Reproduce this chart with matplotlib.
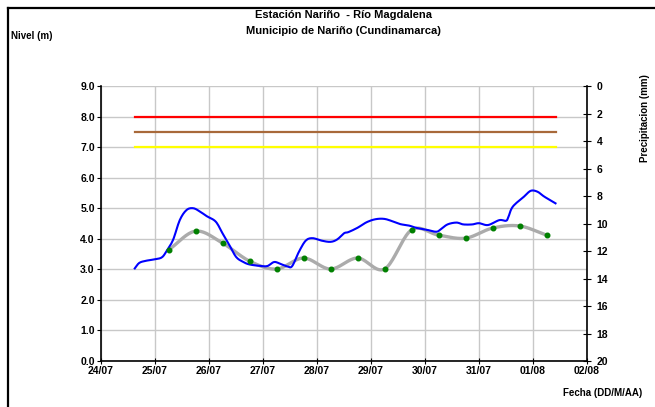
import numpy as np
import pandas as pd
import matplotlib
matplotlib.use("Agg")
import matplotlib.pyplot as plt
import matplotlib.dates as mdates
from matplotlib.lines import Line2D

plt.rcParams['font.family'] = ['Liberation Sans', 'DejaVu Sans']
plt.rcParams['font.weight'] = 'bold'

# nivel horario (m)
nivel_t = ["2008-07-24 15:00", "2008-07-24 17:00", "2008-07-24 20:00",
           "2008-07-25 00:00", "2008-07-25 03:00", "2008-07-25 05:00", "2008-07-25 08:00",
           "2008-07-25 11:00", "2008-07-25 14:00", "2008-07-25 17:00", "2008-07-25 20:00",
           "2008-07-25 23:00", "2008-07-26 03:00", "2008-07-26 06:00", "2008-07-26 09:00",
           "2008-07-26 12:00", "2008-07-26 15:00", "2008-07-26 18:00", "2008-07-26 23:00",
           "2008-07-27 02:00", "2008-07-27 05:00", "2008-07-27 08:00", "2008-07-27 11:00",
           "2008-07-27 13:00", "2008-07-27 16:00", "2008-07-27 19:00", "2008-07-27 22:00",
           "2008-07-28 02:00", "2008-07-28 06:00", "2008-07-28 09:00", "2008-07-28 12:00",
           "2008-07-28 14:00", "2008-07-28 18:00", "2008-07-28 22:00", "2008-07-29 02:00",
           "2008-07-29 06:00", "2008-07-29 10:00", "2008-07-29 13:00", "2008-07-29 17:00",
           "2008-07-29 20:00", "2008-07-30 01:00", "2008-07-30 05:00", "2008-07-30 07:00",
           "2008-07-30 10:00", "2008-07-30 14:00", "2008-07-30 17:00", "2008-07-30 21:00",
           "2008-07-31 00:00", "2008-07-31 04:00", "2008-07-31 09:00", "2008-07-31 12:00",
           "2008-07-31 13:00", "2008-07-31 15:00", "2008-07-31 20:00", "2008-07-31 23:00",
           "2008-08-01 02:00", "2008-08-01 05:00", "2008-08-01 10:00"]
nivel_v = [3.03, 3.21, 3.28,
           3.33, 3.39, 3.58, 3.96,
           4.61, 4.94, 5.00, 4.89,
           4.74, 4.56, 4.18, 3.80,
           3.41, 3.25, 3.16, 3.11,
           3.11, 3.24, 3.17, 3.09,
           3.11, 3.58, 3.94, 4.02,
           3.94, 3.90, 3.98, 4.18,
           4.22, 4.36, 4.54, 4.64,
           4.65, 4.56, 4.48, 4.43,
           4.36, 4.29, 4.23, 4.31,
           4.47, 4.53, 4.47, 4.47,
           4.51, 4.45, 4.61, 4.59,
           4.70, 5.05, 5.38, 5.57,
           5.54, 5.38, 5.16]

# lecturas de mira (06:00 y 18:00)
mira_t = ["2008-07-25 06:00", "2008-07-25 18:00", "2008-07-26 06:00", "2008-07-26 18:00",
          "2008-07-27 06:00", "2008-07-27 18:00", "2008-07-28 06:00", "2008-07-28 18:00",
          "2008-07-29 06:00", "2008-07-29 18:00", "2008-07-30 06:00", "2008-07-30 18:00",
          "2008-07-31 06:00", "2008-07-31 18:00", "2008-08-01 06:00"]
mira_v = [3.63, 4.25, 3.86, 3.27, 3.01, 3.37, 3.01, 3.37, 3.01, 4.29, 4.12, 4.02, 4.35, 4.42, 4.12]

# umbrales de alerta (m)
umbral_rojo = 8.0
umbral_naranja = 7.5
umbral_amarillo = 7.0

nivel_t = pd.to_datetime(nivel_t)
mira_t = pd.to_datetime(mira_t)


def suavizar(x, y, n=20):
    # curva suavizada tipo Excel (Catmull-Rom) entre los puntos
    x = np.asarray(x, float); y = np.asarray(y, float)
    px = np.concatenate([[2 * x[0] - x[1]], x, [2 * x[-1] - x[-2]]])
    py = np.concatenate([[2 * y[0] - y[1]], y, [2 * y[-1] - y[-2]]])
    xs, ys = [], []
    s = np.linspace(0, 1, n, endpoint=False)
    for i in range(1, len(px) - 2):
        for arr, out in ((px, xs), (py, ys)):
            p0, p1, p2, p3 = arr[i - 1], arr[i], arr[i + 1], arr[i + 2]
            out.extend(0.5 * (2 * p1 + (-p0 + p2) * s + (2 * p0 - 5 * p1 + 4 * p2 - p3) * s ** 2
                              + (-p0 + 3 * p1 - 3 * p2 + p3) * s ** 3))
    xs.append(x[-1]); ys.append(y[-1])
    return np.array(xs), np.array(ys)


fig = plt.figure(figsize=(6.55, 4.07), dpi=100)
ax = fig.add_axes([0.1542, 0.1130, 0.742, 0.6757])

t0, t1 = nivel_t[0], nivel_t[-1]
ax.plot([t0, t1], [umbral_rojo] * 2, color='#FF0000', lw=1.6)
ax.plot([t0, t1], [umbral_naranja] * 2, color='#A8693A', lw=1.6)
ax.plot([t0, t1], [umbral_amarillo] * 2, color='#FFFF00', lw=1.6)

mx = mdates.date2num(mira_t)
sx, sy = suavizar(mx, mira_v)
ax.plot(mdates.num2date(sx), sy, color='#ABABAB', lw=2.4, zorder=3)
ax.plot(mira_t, mira_v, 'o', color='#008000', ms=3.3, zorder=5)

nx = mdates.date2num(nivel_t)
bx, by = suavizar(nx, nivel_v, n=8)
ax.plot(mdates.num2date(bx), by, color='#0000FF', lw=1.5, zorder=4)

ax.set_xlim(pd.Timestamp("2008-07-24"), pd.Timestamp("2008-08-02"))
ax.set_ylim(0, 9)
ax.set_yticks(np.arange(0, 9.01, 1.0))
ax.yaxis.set_major_formatter(matplotlib.ticker.FormatStrFormatter('%.1f'))
ax.xaxis.set_major_locator(mdates.DayLocator())
ax.xaxis.set_major_formatter(mdates.DateFormatter('%d/%m'))
ax.grid(True, color='#C8C8C8', lw=1.0)
ax.set_axisbelow(True)
for s in ('top', 'right'):
    ax.spines[s].set_visible(False)
ax.spines['left'].set_linewidth(1.2)
ax.spines['bottom'].set_linewidth(1.2)
ax.tick_params(axis='both', labelsize=7.5, length=3, width=0.8, pad=1.5)
ax.tick_params(axis='x', direction='inout', length=4)

ax2 = ax.twinx()
ax2.set_ylim(20, 0)
ax2.set_yticks(np.arange(0, 21, 2))
for s in ('top', 'left', 'bottom'):
    ax2.spines[s].set_visible(False)
ax2.spines['right'].set_linewidth(1.2)
ax2.tick_params(axis='y', labelsize=7.5, direction='inout', length=6, width=0.8, pad=4)

fig.text(0.525, 0.962, "Estación Nariño  - Río Magdalena", ha='center', va='center',
         fontsize=8, fontweight='bold')
fig.text(0.525, 0.925, "Municipio de Nariño (Cundinamarca)", ha='center', va='center',
         fontsize=8, fontweight='bold')
fig.text(0.017, 0.912, "Nivel (m)", ha='left', va='center', fontsize=7, fontweight='bold')
fig.text(0.985, 0.71, "Precipitacion (mm)", ha='center', va='center', rotation=90,
         fontsize=7, fontweight='bold')
fig.text(0.981, 0.035, "Fecha (DD/M/AA)", ha='right', va='center', fontsize=7,
         fontweight='bold')

# marco del gráfico
fig.add_artist(Line2D([8 / 655, 8 / 655], [0, 1 - 8 / 407], color='black', lw=1.6,
                      transform=fig.transFigure))
fig.add_artist(Line2D([8 / 655, 1], [1 - 8 / 407, 1 - 8 / 407], color='black', lw=1.6,
                      transform=fig.transFigure))

fig.savefig("out.png", dpi=100)
